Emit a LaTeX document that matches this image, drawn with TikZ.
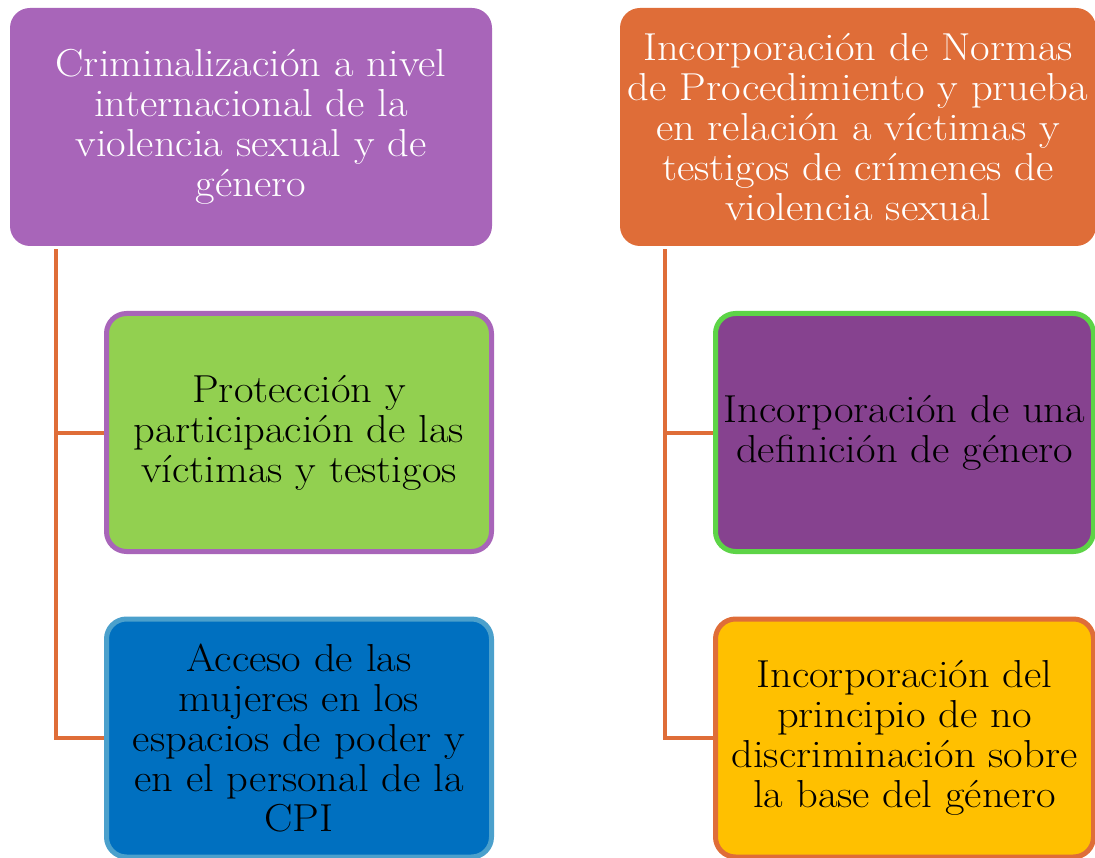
\documentclass[tikz,border=0pt]{standalone}
\usepackage{fontspec}
\setmainfont{Latin Modern Roman}[FakeStretch=1.09]
\definecolor{cpurple}{HTML}{A865B9}
\definecolor{corange}{HTML}{DF6D38}
\definecolor{cgreen}{HTML}{92D050}
\definecolor{cblue}{HTML}{0070C0}
\definecolor{clblue}{HTML}{4BA0CC}
\definecolor{cdpurple}{HTML}{86428F}
\definecolor{cgreenb}{HTML}{5DD447}
\definecolor{cyellow}{HTML}{FFC000}
\begin{document}
\begin{tikzpicture}[x=1pt,y=-1pt,
  box/.style={rounded corners=20pt, align=center, inner sep=0pt,
    font=\fontsize{39}{40}\selectfont},
  topbox/.style={box, text=white, minimum width=482pt, minimum height=238pt},
  subbox/.style={box, text=black, line width=5pt, minimum width=385pt, minimum height=238pt},
  conn/.style={draw=corange, line width=4pt}]
\useasboundingbox (0,0) rectangle (1095,858);
\clip (0,0) rectangle (1095,858);
\node[topbox, fill=cpurple] (tl) at (251,127) {Criminalización a nivel\\internacional de la\\violencia sexual y de\\género};
\node[topbox, fill=corange, minimum width=476pt] (tr) at (858,127) {Incorporación de Normas\\de Procedimiento y prueba\\en relación a víctimas y\\testigos de crímenes de\\violencia sexual};
\node[subbox, fill=cgreen, draw=cpurple] (ml) at (299,432.5) {Protección y\\participación de las\\víctimas y testigos};
\node[subbox, fill=cblue, draw=clblue] (bl) at (299,738) {Acceso de las\\mujeres en los\\espacios de poder y\\en el personal de la\\CPI};
\node[subbox, fill=cdpurple, draw=cgreenb, minimum width=378pt] (mr) at (904.5,432.5) {Incorporación de una\\definición de género};
\node[subbox, fill=cyellow, draw=corange, minimum width=378pt] (br) at (904.5,738) {Incorporación del\\principio de no\\discriminación sobre\\la base del género};
\draw[conn] ([xshift=46pt,yshift=-3pt]tl.south west) |- (ml.west);
\draw[conn] ([xshift=46pt,yshift=-3pt]tl.south west) |- (bl.west);
\draw[conn] ([xshift=45pt,yshift=-3pt]tr.south west) |- (mr.west);
\draw[conn] ([xshift=45pt,yshift=-3pt]tr.south west) |- (br.west);
\end{tikzpicture}
\end{document}
